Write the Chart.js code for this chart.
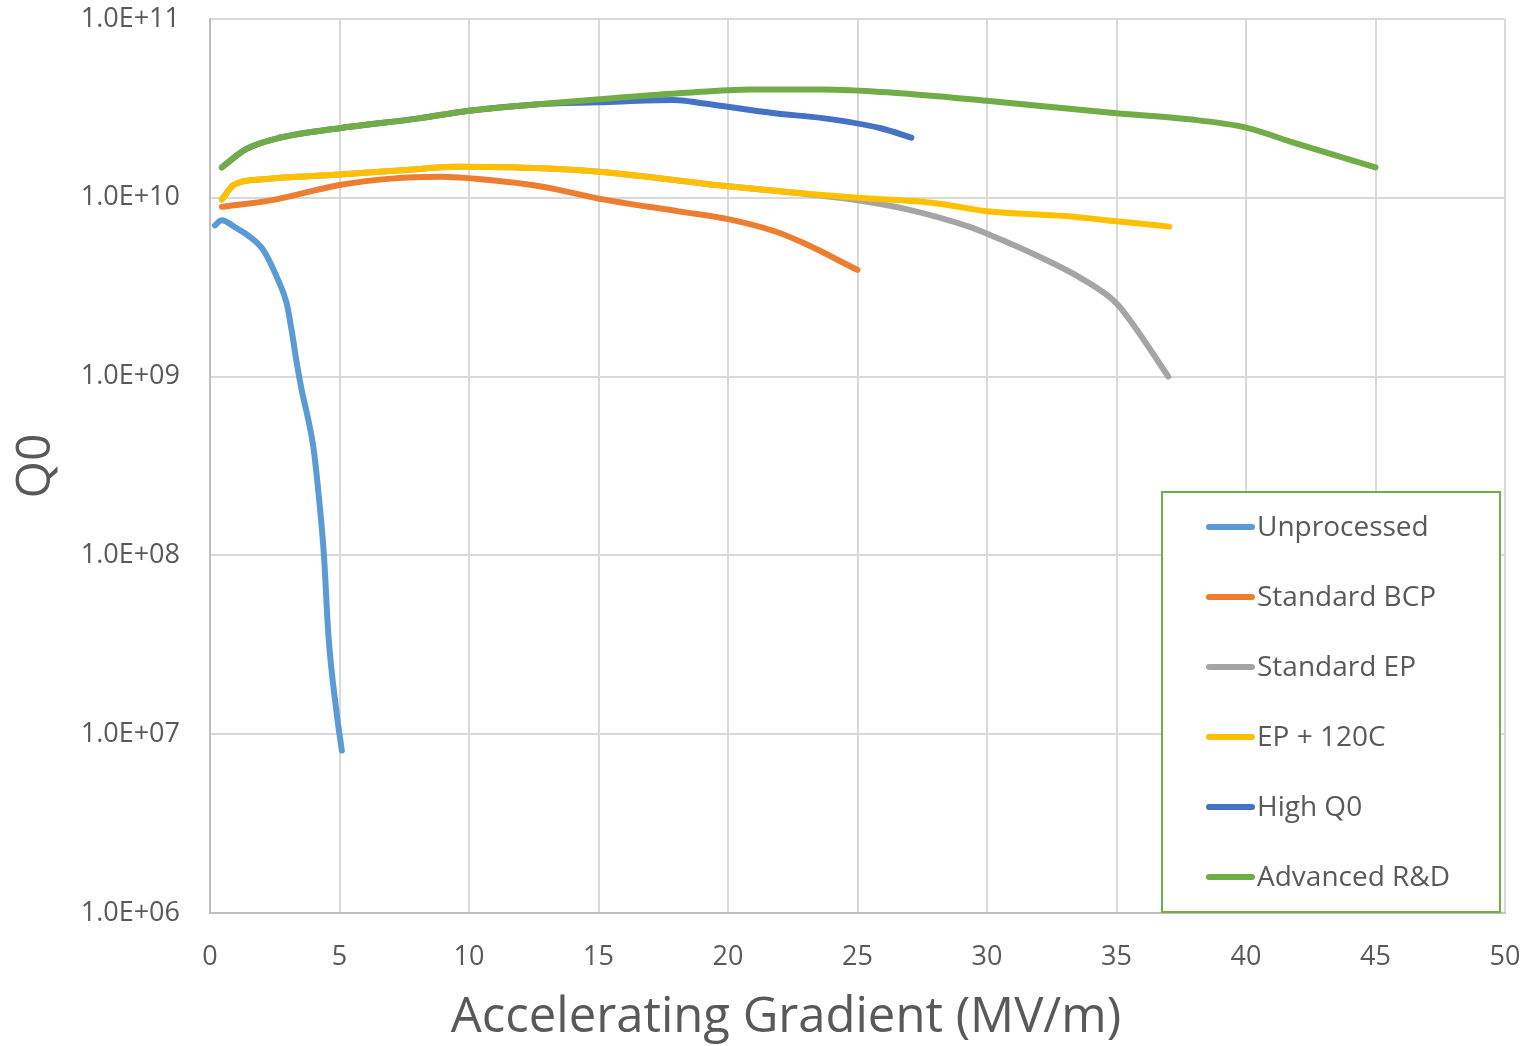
<!DOCTYPE html>
<html>
<head>
<meta charset="utf-8">
<script src="https://cdn.jsdelivr.net/npm/chart.js@4"></script>
<style>
html,body{margin:0;padding:0;background:#fff}
#wrap{width:1529px;height:1046px;position:relative}
</style>
</head>
<body>
<div id="wrap"><canvas id="q0Chart" width="1529" height="1046"></canvas></div>
<script>
// series names + colours
const seriesNames=["Unprocessed","Standard BCP","Standard EP","EP + 120C","High Q0","Advanced R&D"]
const seriesColors=["#5B9BD5","#ED7D31","#A5A5A5","#FFC000","#4472C4","#70AD47"]

// gradient (MV/m) and Q0
const unprocX=[0.19,0.45,1.0,1.54,2.06,2.58,2.96,3.15,3.35,3.54,3.8,3.99,4.18,4.4,4.57,4.9,5.09]
const unprocY=[7.0e9,7.5e9,6.8e9,6.05e9,5.1e9,3.6e9,2.57e9,1.82e9,1.19e9,8.4e8,5.7e8,4.05e8,2.3e8,1.0e8,3.6e7,1.28e7,8.1e6]

const bcpX=[0.46,2.4,5,7,8.87,10.7,12.9,15,18.1,20,21.8,22.9,25]
const bcpY=[8.9e9,9.7e9,1.18e10,1.28e10,1.31e10,1.26e10,1.15e10,9.9e9,8.4e9,7.6e9,6.5e9,5.6e9,3.95e9]

const epX=[0.46,0.92,2.03,5,7.58,9.43,11.6,15,20,22.5,25,26.8,29.3,30,31.6,33.7,35,35.7,37]
const epY=[9.8e9,1.18e10,1.27e10,1.35e10,1.43e10,1.49e10,1.48e10,1.40e10,1.16e10,1.07e10,9.7e9,8.7e9,6.9e9,6.3e9,5.0e9,3.5e9,2.57e9,1.9e9,1.0e9]

const ep120X=[0.46,0.92,2.03,5,7.58,9.43,11.6,15,20,25,27.5,28.3,30,33,35,37.04]
const ep120Y=[9.8e9,1.18e10,1.27e10,1.35e10,1.43e10,1.49e10,1.48e10,1.40e10,1.16e10,1.0e10,9.5e9,9.2e9,8.4e9,7.9e9,7.4e9,6.9e9]

const highX=[0.46,1.39,2.77,5,8.13,10,12.57,15,17.9,19,21.8,23.66,25.9,27.08]
const highY=[1.48e10,1.87e10,2.18e10,2.45e10,2.79e10,3.07e10,3.33e10,3.42e10,3.52e10,3.38e10,2.97e10,2.79e10,2.45e10,2.17e10]

const advX=[0.46,1.39,2.77,5,8.13,10,12.57,15.03,18.1,20.9,23.66,26.4,30,35,37.8,40,41.9,45]
const advY=[1.48e10,1.87e10,2.18e10,2.45e10,2.79e10,3.07e10,3.33e10,3.56e10,3.84e10,4.04e10,4.04e10,3.87e10,3.49e10,2.97e10,2.75e10,2.47e10,2.02e10,1.48e10]

const xTicks=[0,5,10,15,20,25,30,35,40,45,50]
const yTicks=[1e6,1e7,1e8,1e9,1e10,1e11]
const xTitle="Accelerating Gradient (MV/m)"

const allX=[unprocX,bcpX,epX,ep120X,highX,advX]
const allY=[unprocY,bcpY,epY,ep120Y,highY,advY]

function pts(xs,ys){
return xs.map((x,i)=>({x:x,y:ys[i]}))
}

const datasets=seriesNames.map((name,i)=>({
label:name,
data:pts(allX[i],allY[i]),
borderColor:seriesColors[i],
backgroundColor:seriesColors[i],
borderWidth:6,
pointRadius:0,
cubicInterpolationMode:"monotone",
borderCapStyle:"round",
borderJoinStyle:"round",
order:seriesNames.length-i
}))

const textGrey="#595959"
const fam="'Open Sans', sans-serif"

// legend box inside the plot + x title (Excel puts it off-centre)
const boxLegend={
id:"boxLegend",
afterDraw(chart){
const c=chart.ctx
c.save()
c.fillStyle="#fff"
c.fillRect(1162,492,338,420)
c.strokeStyle="#70AD47"
c.lineWidth=2
c.strokeRect(1162,492,338,420)
c.font="28px "+fam
c.textBaseline="middle"
chart.data.datasets.forEach((d,i)=>{
let y=527+i*70
c.strokeStyle=d.borderColor
c.lineWidth=6
c.lineCap="round"
c.beginPath()
c.moveTo(1209,y)
c.lineTo(1252,y)
c.stroke()
c.fillStyle=textGrey
c.fillText(d.label,1257,y+1)
})
c.font="49px "+fam
c.textAlign="center"
c.fillStyle=textGrey
c.fillText(xTitle,786,1018)
c.restore()
}
}

new Chart(document.getElementById("q0Chart"),{
type:"line",
data:{datasets:datasets},
options:{
responsive:false,
animation:false,
events:[],
layout:{padding:{top:19,right:24,left:0,bottom:0}},
plugins:{legend:{display:false},tooltip:{enabled:false}},
scales:{
x:{
type:"linear",
min:0,max:50,
afterBuildTicks:s=>{s.ticks=xTicks.map(v=>({value:v}))},
afterFit:s=>{s.height=133;s.paddingLeft=0;s.paddingRight=0},
grid:{color:"#d9d9d9",lineWidth:2,drawTicks:false},
border:{color:"#bfbfbf",width:2},
ticks:{padding:28,color:textGrey,font:{size:27,family:fam}}
},
y:{
type:"logarithmic",
min:1e6,max:1e11,
afterBuildTicks:s=>{s.ticks=yTicks.map(v=>({value:v}))},
afterFit:s=>{s.width=210;s.paddingTop=0;s.paddingBottom=0},
grid:{color:"#d9d9d9",lineWidth:2,drawTicks:false},
border:{color:"#bfbfbf",width:2},
ticks:{
padding:30,color:textGrey,font:{size:27,family:fam},
callback:v=>"1.0E+"+String(Math.round(Math.log10(v))).padStart(2,"0")
},
title:{display:true,text:"Q0",color:textGrey,font:{size:48,family:fam},padding:{top:8,bottom:0}}
}
}
},
plugins:[boxLegend]
})
</script>
</body>
</html>
